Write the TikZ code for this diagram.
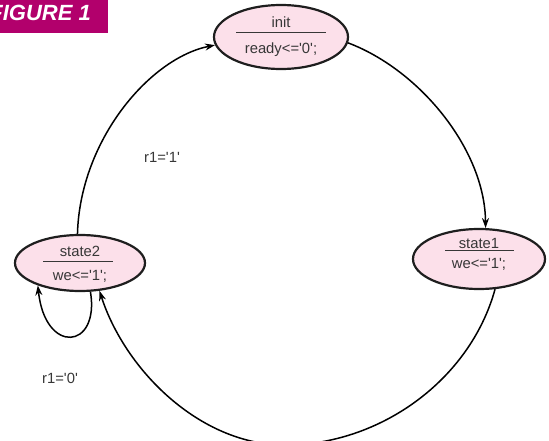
\documentclass[tikz,border=0pt]{standalone}
\usepackage{fontspec}
\setmainfont{Liberation Sans}
\usetikzlibrary{shapes.geometric,arrows.meta}
\definecolor{figmag}{RGB}{178,0,108}
\definecolor{statefill}{RGB}{252,224,234}
\definecolor{edgecol}{RGB}{30,30,30}
\definecolor{txtcol}{RGB}{55,55,55}
\newcommand{\sq}{\textquotesingle}
\tikzset{
  statebox/.style={ellipse, draw=edgecol, line width=2.2pt, fill=statefill, inner sep=0pt},
  lab/.style={text=txtcol, inner sep=0pt, font=\fontsize{14.8}{16}\selectfont},
  divider/.style={draw=txtcol, line width=1pt},
  trans/.style={draw=black, line width=1.5pt, -{Stealth[length=10pt,width=7pt]}},
}
\begin{document}
\begin{tikzpicture}[x=1pt,y=-1pt]
\useasboundingbox (0,0) rectangle (549,441);
% figure tag
\fill[figmag] (0,0) rectangle (108,33);
\node[anchor=base east, text=white, inner sep=0pt, font=\bfseries\itshape\fontsize{22}{22}\selectfont] (tag) at (91,21) {FIGURE 1};
% states
\node[statebox, minimum width=134pt, minimum height=64pt] (init) at (281,37) {};
\node[statebox, minimum width=132pt, minimum height=60pt] (state1) at (479,259) {};
\node[statebox, minimum width=130pt, minimum height=56pt] (state2) at (80,263) {};
% texts
\node[lab] (initT) at (281,22) {init};
\node[lab] (initB) at (281,50) {ready<=\sq0\sq;};
\draw[divider] (236,33) -- (326,33);
\node[lab] (s1T) at (479,243) {state1};
\node[lab] (s1B) at (479,264) {we<=\sq1\sq;};
\draw[divider] (445,250) -- (514,250);
\node[lab] (s2T) at (80,251) {state2};
\node[lab] (s2B) at (80,276) {we<=\sq1\sq;};
\draw[divider] (43,261) -- (113,261);
% labels
\node[lab] (l1) at (162,157) {r1=\sq1\sq};
\node[lab] (l0) at (60,378) {r1=\sq0\sq};
% transitions
\draw[trans] (state2.95) .. controls (80,140) and (150,58) .. (init.187);
\draw[trans] (init.355) .. controls (420,70) and (485,150) .. (state1.78);
\draw[trans] (state1.298) .. controls (470,380) and (380,445) .. (285,445)
  .. controls (200,445) and (125,370) .. (state2.305);
\draw[trans] (state2.290) .. controls (100,350) and (45,355) .. (state2.208);
\end{tikzpicture}
\end{document}
